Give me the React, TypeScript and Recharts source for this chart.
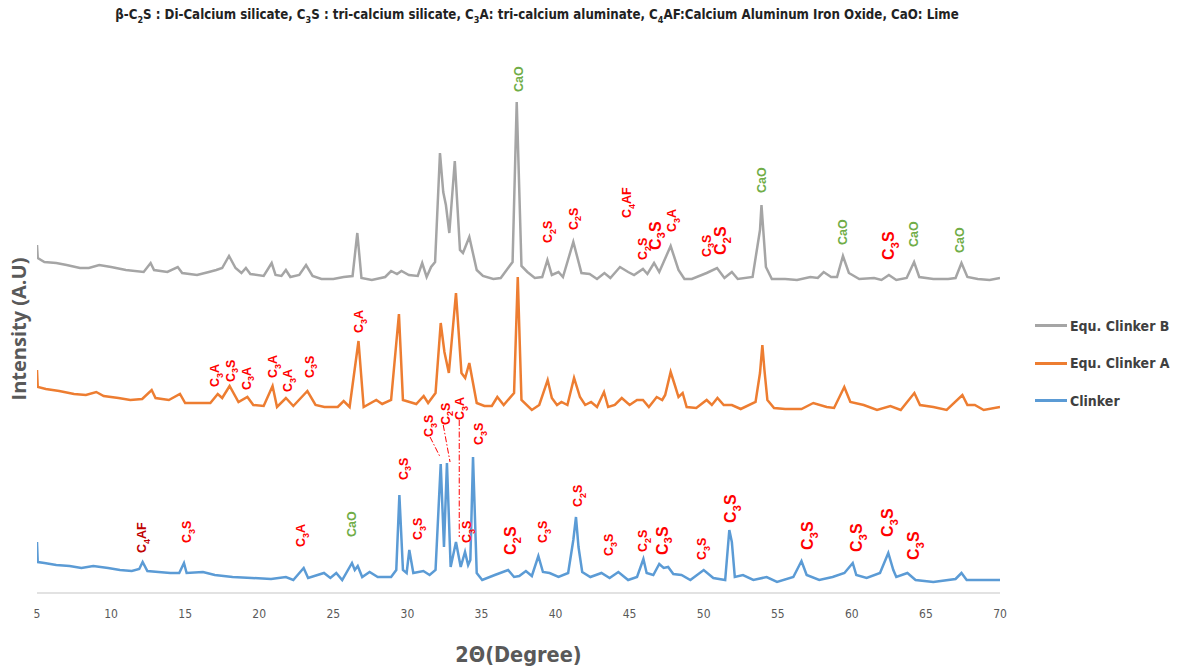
import {
  Line,
  LineChart,
  ReferenceDot,
  ReferenceLine,
  XAxis,
  YAxis,
} from "recharts";

// 2θ (degree), intensity (a.u., offset traces)
const clinkerB: [number, number][] = [
  [5.0, 348], [5.05, 335], [5.5, 331], [6.3, 330], [7.0, 328], [7.9, 325], [8.5, 325],
  [9.2, 328], [10.0, 326], [11.0, 323], [12.2, 321], [12.67, 330], [12.9, 323],
  [13.8, 321], [14.5, 326], [14.8, 320], [15.8, 318], [16.6, 321], [17.1, 323],
  [17.5, 325], [17.96, 337], [18.4, 325], [18.8, 320], [19.1, 325], [19.4, 319],
  [20.3, 317], [20.84, 330], [21.1, 318], [21.5, 317], [21.8, 323], [22.1, 316],
  [22.7, 318], [23.16, 328], [23.6, 317], [24.2, 314], [25.0, 314], [25.7, 316],
  [26.3, 317], [26.62, 360], [26.9, 315], [27.6, 313], [28.5, 316], [28.9, 322],
  [29.3, 319], [29.6, 322], [30.1, 318], [30.7, 317], [31.0, 330], [31.3, 316],
  [31.6, 326], [31.87, 331], [32.2, 440], [32.42, 401], [32.6, 388], [32.83, 360],
  [33.2, 432], [33.55, 343], [33.75, 340], [34.18, 356], [34.68, 323], [35.1, 317],
  [35.8, 314], [36.3, 315], [36.7, 323], [37.1, 331], [37.38, 491], [37.7, 327],
  [38.1, 321], [38.6, 315], [39.1, 316], [39.45, 333], [39.75, 318], [40.2, 321],
  [40.5, 316], [41.2, 351], [41.75, 320], [42.3, 319], [42.8, 314], [43.3, 320],
  [43.7, 315], [44.35, 326], [44.9, 321], [45.3, 318], [45.9, 324], [46.2, 319],
  [46.65, 330], [47.0, 321], [47.77, 347], [48.3, 323], [48.7, 314], [49.2, 314],
  [50.2, 320], [50.9, 325], [51.4, 315], [51.9, 321], [52.3, 314], [53.3, 316],
  [53.8, 363], [53.9, 388], [54.2, 326], [54.6, 314], [55.5, 314], [56.3, 313],
  [57.2, 316], [57.7, 315], [58.1, 321], [58.6, 316], [59.0, 316], [59.4, 337],
  [59.8, 320], [60.5, 314], [61.5, 315], [62.0, 313], [62.5, 318], [63.0, 313],
  [63.7, 315], [64.2, 331], [64.55, 316], [65.5, 314], [66.5, 314], [67.0, 315],
  [67.4, 330], [67.8, 316], [68.5, 314], [69.3, 313], [70.0, 315],
];

const clinkerA: [number, number][] = [
  [5.0, 223], [5.05, 206], [5.6, 204], [6.5, 202], [7.5, 199], [8.3, 198], [9.0, 201],
  [9.5, 197], [10.5, 195], [11.3, 193], [12.1, 194], [12.74, 203], [13.0, 195],
  [13.9, 193], [14.65, 199], [15.0, 190], [15.9, 190], [16.7, 190], [17.2, 199],
  [17.5, 195], [18.0, 207], [18.6, 191], [19.2, 196], [19.6, 188], [20.3, 187],
  [20.9, 207], [21.2, 186], [21.8, 195], [22.3, 187], [23.25, 202], [23.8, 188],
  [24.4, 186], [25.3, 186], [25.7, 192], [26.1, 186], [26.7, 252], [27.05, 186],
  [27.9, 193], [28.3, 189], [28.9, 193], [29.43, 279], [29.7, 193], [30.6, 189],
  [31.1, 197], [31.4, 190], [31.9, 200], [32.25, 270], [32.5, 241], [32.8, 220],
  [33.28, 300], [33.65, 220], [33.9, 215], [34.18, 230], [34.68, 190], [35.2, 187],
  [35.7, 187], [36.07, 196], [36.5, 188], [37.2, 200], [37.45, 316], [37.7, 193],
  [38.4, 183], [38.9, 188], [39.47, 213], [39.75, 195], [40.1, 188], [40.4, 191],
  [40.8, 188], [41.25, 215], [41.65, 196], [42.0, 188], [42.4, 191], [42.8, 186],
  [43.27, 201], [43.55, 186], [44.0, 188], [44.47, 195], [45.0, 188], [45.5, 193],
  [45.9, 193], [46.3, 186], [46.83, 196], [47.2, 193], [47.4, 198], [47.77, 221],
  [48.05, 208], [48.3, 196], [48.58, 200], [48.85, 186], [49.5, 185], [50.2, 193],
  [50.55, 188], [50.93, 195], [51.35, 188], [51.9, 188], [52.5, 184], [53.5, 191],
  [53.8, 220], [53.96, 248], [54.1, 223], [54.3, 193], [54.75, 185], [55.5, 184],
  [56.6, 184], [57.4, 190], [58.3, 186], [58.8, 185], [59.49, 206], [59.9, 191],
  [60.8, 188], [61.7, 183], [62.6, 187], [63.3, 183], [64.22, 200], [64.6, 188],
  [65.5, 186], [66.4, 183], [67.46, 198], [67.8, 188], [68.3, 188], [68.9, 183],
  [70.0, 186],
];

const clinker: [number, number][] = [
  [5.0, 51], [5.05, 31], [5.5, 30], [6.3, 28], [7.2, 27], [8.0, 25], [8.8, 27],
  [9.8, 25], [10.6, 23], [11.4, 22], [11.9, 24], [12.13, 31], [12.45, 22], [13.2, 21],
  [14.0, 20], [14.6, 20], [14.92, 30], [15.1, 20], [16.2, 21], [17.0, 18], [18.2, 16],
  [19.5, 15], [20.8, 14], [21.8, 16], [22.3, 13], [23.0, 25], [23.3, 15], [24.37, 20],
  [24.8, 15], [25.2, 20], [25.6, 13], [26.26, 30], [26.45, 23], [26.65, 27],
  [26.95, 16], [27.45, 21], [28.0, 16], [28.9, 16], [29.25, 23], [29.46, 98],
  [29.7, 23], [29.95, 20], [30.13, 43], [30.4, 20], [31.08, 22], [31.5, 18],
  [31.9, 23], [32.25, 129], [32.47, 46], [32.67, 130], [32.92, 26], [33.28, 51],
  [33.6, 26], [33.89, 41], [34.1, 28], [34.25, 33], [34.43, 136], [34.68, 20],
  [35.05, 13], [35.9, 18], [36.8, 23], [37.2, 16], [37.55, 17], [38.0, 22], [38.4, 17],
  [38.84, 37], [39.15, 21], [39.6, 20], [40.2, 16], [40.85, 20], [41.2, 53],
  [41.38, 76], [41.55, 46], [41.8, 21], [42.35, 16], [43.1, 20], [43.65, 15],
  [44.24, 21], [44.9, 13], [45.5, 16], [45.93, 34], [46.15, 20], [46.6, 18], [47.0, 29],
  [47.3, 25], [47.6, 26], [47.95, 19], [48.5, 18], [49.1, 13], [50.0, 23], [50.65, 15],
  [51.45, 13], [51.73, 63], [51.9, 51], [52.1, 16], [52.65, 18], [53.35, 13],
  [54.25, 16], [54.95, 11], [56.05, 16], [56.6, 32], [56.95, 18], [57.8, 13],
  [58.7, 16], [59.5, 20], [60.06, 30], [60.3, 18], [61.0, 15], [61.9, 20], [62.46, 40],
  [62.8, 23], [63.0, 16], [63.75, 20], [64.3, 13], [65.5, 11], [67.0, 14], [67.4, 20],
  [67.75, 13], [69.0, 13], [70.0, 13],
];

const xTicks = [5, 10, 15, 20, 25, 30, 35, 40, 45, 50, 55, 60, 65, 70];

// phase marks: [2θ, intensity at text start, phase, large?]
type Mark = [number, number, string, boolean?];

const marksB: Mark[] = [
  [39.49, 350, "C2S"], [41.18, 363, "C2S"], [44.82, 375, "C4AF"], [45.9, 333, "C2S"],
  [46.71, 343, "C3S", true], [47.86, 361, "C3A"], [50.16, 336, "C3S"],
  [51.1, 338, "C2S", true], [62.44, 333, "C3S", true],
];
const limeB: Mark[] = [
  [37.47, 501, "CaO"], [53.87, 400, "CaO"], [59.4, 348, "CaO"], [64.13, 346, "CaO"],
  [67.3, 340, "CaO"],
];
const marksA: Mark[] = [
  [17.01, 206, "C3A"], [18.03, 211, "C3S"], [19.11, 203, "C3A"], [20.91, 215, "C3A"],
  [21.9, 201, "C3A"], [23.36, 215, "C3S"], [26.69, 260, "C3A"],
];
const marksClinker: Mark[] = [
  [15.1, 50, "C3S"], [22.8, 46, "C3A"], [29.72, 113, "C3S"], [30.7, 53, "C3S"],
  [31.41, 156, "C3S"], [32.54, 168, "C2S"], [33.55, 173, "C3A"], [34.0, 50, "C3S"],
  [34.79, 148, "C3S"], [36.93, 38, "C2S", true], [39.13, 50, "C3S"], [41.47, 86, "C2S"],
  [43.56, 37, "C3S"], [45.88, 41, "C2S"], [47.17, 38, "C3S", true], [49.87, 33, "C3S"],
  [51.78, 70, "C3S", true], [57.0, 43, "C3S", true], [60.33, 41, "C3S", true],
  [62.42, 56, "C3S", true], [64.15, 33, "C3S", true],
];
const ferriteClinker: Mark[] = [[12.07, 40, "C4AF"]];
const limeClinker: Mark[] = [[26.24, 56, "CaO"]];

// dash-dot leaders in the 32-34° cluster
const leaders: [number, number, number, number][] = [
  [31.53, 156, 32.21, 136],
  [32.42, 168, 32.88, 131],
  [33.5, 173, 33.5, 56],
];

const series = [
  { name: "Equ. Clinker B", data: clinkerB, color: "#a5a5a5" },
  { name: "Equ. Clinker A", data: clinkerA, color: "#ed7d31" },
  { name: "Clinker", data: clinker, color: "#5b9bd5" },
];

const narrow = "'Liberation Sans Narrow', 'DejaVu Sans Condensed', 'Open Sans', sans-serif";

const phaseParts: Record<string, string[]> = {
  C2S: ["C", "2", "S"],
  C3S: ["C", "3", "S"],
  C3A: ["C", "3", "A"],
  C4AF: ["C", "4", "AF"],
  CaO: ["CaO"],
};

function PhaseText(props: any) {
  const { cx, cy, phase, size, color } = props;
  if (cx == null || cy == null) return null;
  const p = phaseParts[phase];
  const sh = size * 0.3;
  return (
    <text
      x={cx}
      y={cy + size * 0.36}
      transform={`rotate(-90 ${cx} ${cy})`}
      fontSize={size}
      fontWeight="bold"
      fill={color}
      fontFamily="'Liberation Sans', Arial, sans-serif"
    >
      {p[0]}
      {p[1] && (
        <tspan fontSize={size * 0.72} dy={sh}>
          {p[1]}
        </tspan>
      )}
      {p[2] && <tspan dy={-sh}>{p[2]}</tspan>}
    </text>
  );
}

function renderMarks(list: Mark[], color: string, key: string) {
  return list.map(([x, y, phase, big]) => (
    <ReferenceDot
      key={`${key}-${x}`}
      x={x}
      y={y}
      r={0}
      shape={(p: any) => (
        <PhaseText cx={p.cx} cy={p.cy} phase={phase} size={big ? 16 : 12.5} color={color} />
      )}
    />
  ));
}

const toPoints = (d: [number, number][]) => d.map(([x, y]) => ({ x, y }));

export default function App() {
  return (
    <div
      style={{
        position: "absolute",
        left: 0,
        top: 0,
        width: 1177,
        height: 672,
        background: "#fff",
      }}
    >
      <div
        style={{
          position: "absolute",
          left: 0,
          top: 7,
          width: 1074,
          textAlign: "center",
          fontFamily: narrow,
          fontWeight: "bold",
          fontSize: 13.2,
          color: "#222",
        }}
      >
        β-C<sub style={{ fontSize: 9 }}>2</sub>S : Di-Calcium silicate, C
        <sub style={{ fontSize: 9 }}>3</sub>S : tri-calcium silicate, C
        <sub style={{ fontSize: 9 }}>3</sub>A: tri-calcium aluminate, C
        <sub style={{ fontSize: 9 }}>4</sub>AF:Calcium Aluminum Iron Oxide, CaO: Lime
      </div>

      <LineChart width={1177} height={672} margin={{ top: 45, right: 177, left: 0, bottom: 0 }}>
        <XAxis
          dataKey="x"
          type="number"
          domain={[5, 70]}
          ticks={xTicks}
          allowDataOverflow
          height={79}
          tickLine={false}
          tickMargin={10}
          axisLine={{ stroke: "#d9d9d9", strokeWidth: 1.5 }}
          tick={{ fill: "#595959", fontSize: 12, fontFamily: narrow }}
          label={{
            value: "2Θ(Degree)",
            position: "insideBottom",
            offset: 10,
            style: { fill: "#595959", fontSize: 21.5, fontFamily: narrow, fontWeight: "bold" },
          }}
        />
        <YAxis
          type="number"
          domain={[0, 548]}
          width={37}
          tick={false}
          tickLine={false}
          axisLine={false}
          label={{
            value: "Intensity (A.U)",
            angle: -90,
            position: "center",
            dy: 10,
            style: {
              fill: "#595959",
              fontSize: 20,
              fontWeight: "bold",
              fontFamily: "'Open Sans', sans-serif",
            },
          }}
        />
        {series.map((s) => (
          <Line
            key={s.name}
            name={s.name}
            data={toPoints(s.data)}
            dataKey="y"
            type="linear"
            stroke={s.color}
            strokeWidth={2.5}
            dot={false}
            isAnimationActive={false}
          />
        ))}
        {leaders.map(([x1, y1, x2, y2], i) => (
          <ReferenceLine
            key={`lead-${i}`}
            segment={[
              { x: x1, y: y1 },
              { x: x2, y: y2 },
            ]}
            stroke="#ff0000"
            strokeWidth={1}
            strokeDasharray="6 2 1.5 2"
          />
        ))}
        {renderMarks(marksB, "#ff0000", "b")}
        {renderMarks(limeB, "#70ad47", "bl")}
        {renderMarks(marksA, "#ff0000", "a")}
        {renderMarks(marksClinker, "#ff0000", "c")}
        {renderMarks(ferriteClinker, "#c00000", "cf")}
        {renderMarks(limeClinker, "#70ad47", "cl")}
      </LineChart>

      <div style={{ position: "absolute", left: 1035, top: 307 }}>
        {series.map((s) => (
          <div
            key={s.name}
            style={{
              display: "flex",
              alignItems: "center",
              height: 37.5,
              fontFamily: narrow,
              fontWeight: "bold",
              fontSize: 14,
              color: "#404040",
            }}
          >
            <span
              style={{
                display: "inline-block",
                width: 32,
                height: 3,
                background: s.color,
                marginRight: 3,
              }}
            />
            {s.name}
          </div>
        ))}
      </div>
    </div>
  );
}
